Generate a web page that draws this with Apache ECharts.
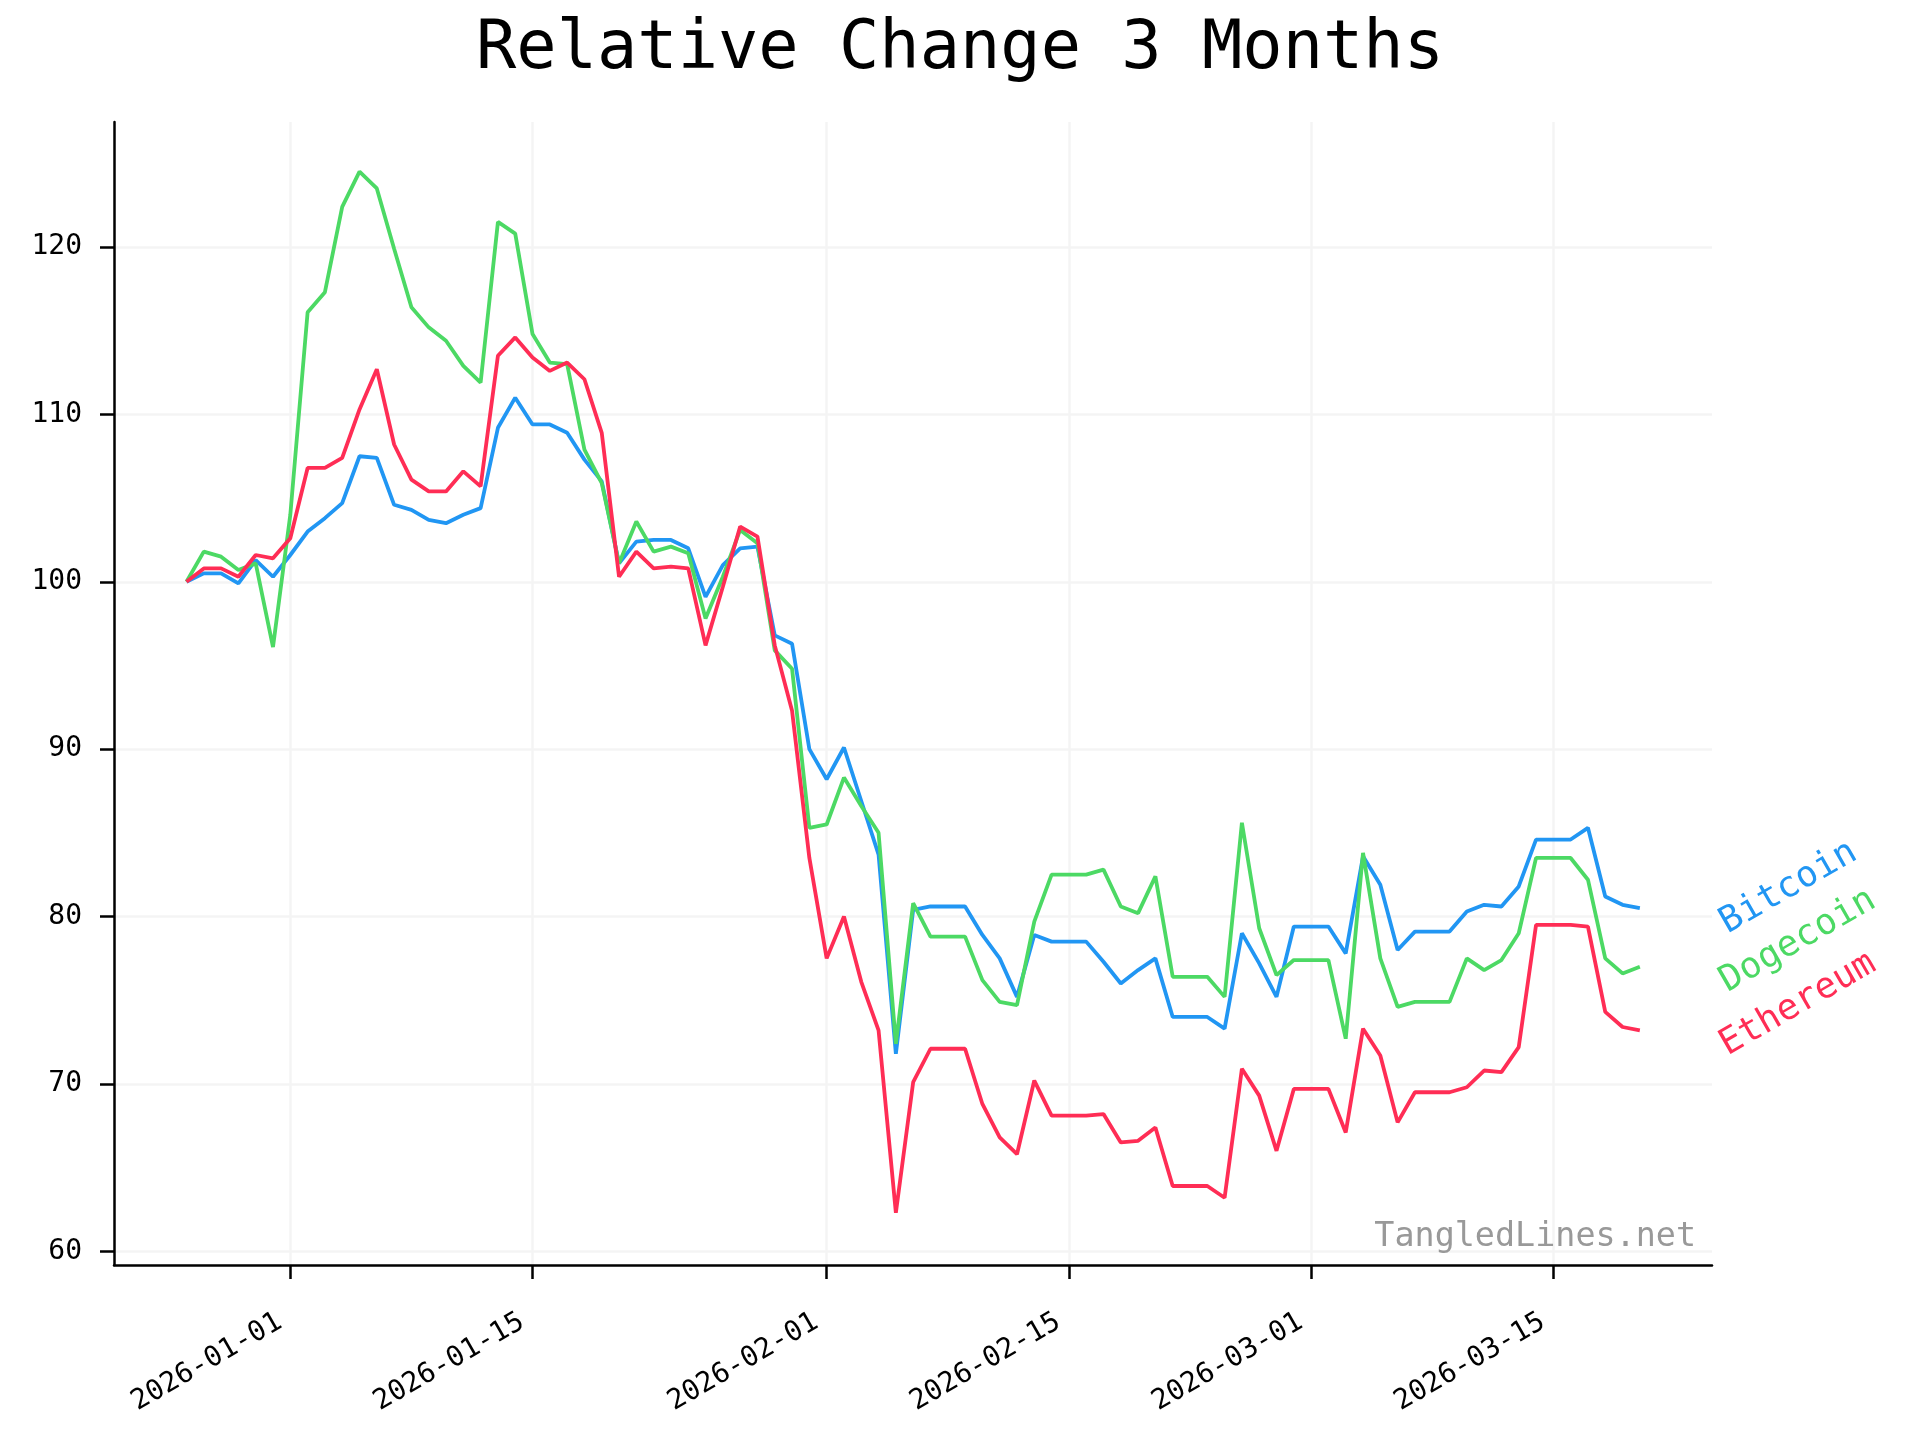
<!DOCTYPE html>
<html>
<head>
<meta charset="utf-8">
<script src="https://cdn.jsdelivr.net/npm/echarts@6/dist/echarts.min.js"></script>
<style>html,body{margin:0;padding:0;background:#fff}#c{width:1920px;height:1440px}</style>
</head>
<body>
<div id="c"></div>
<script>
const dates = [
 '2025-12-26','2025-12-27','2025-12-28','2025-12-29','2025-12-30','2025-12-31',
 '2026-01-01','2026-01-02','2026-01-03','2026-01-04','2026-01-05','2026-01-06','2026-01-07','2026-01-08','2026-01-09','2026-01-10',
 '2026-01-11','2026-01-12','2026-01-13','2026-01-14','2026-01-15','2026-01-16','2026-01-17','2026-01-18','2026-01-19','2026-01-20',
 '2026-01-21','2026-01-22','2026-01-23','2026-01-24','2026-01-25','2026-01-26','2026-01-27','2026-01-28','2026-01-29','2026-01-30','2026-01-31',
 '2026-02-01','2026-02-02','2026-02-03','2026-02-04','2026-02-05','2026-02-06','2026-02-07','2026-02-08','2026-02-09','2026-02-10',
 '2026-02-11','2026-02-12','2026-02-13','2026-02-14','2026-02-15','2026-02-16','2026-02-17','2026-02-18','2026-02-19','2026-02-20',
 '2026-02-21','2026-02-22','2026-02-23','2026-02-24','2026-02-25','2026-02-26','2026-02-27','2026-02-28',
 '2026-03-01','2026-03-02','2026-03-03','2026-03-04','2026-03-05','2026-03-06','2026-03-07','2026-03-08','2026-03-09','2026-03-10',
 '2026-03-11','2026-03-12','2026-03-13','2026-03-14','2026-03-15','2026-03-16','2026-03-17','2026-03-18','2026-03-19','2026-03-20'
];
const bitcoin = [
 100,100.5,100.5,99.9,101.3,100.3,
 101.6,103.0,103.8,104.7,107.5,107.4,104.6,104.3,103.7,103.5,104.0,104.4,109.2,111.0,109.4,109.4,108.9,107.3,106.0,101.1,102.4,102.5,102.5,102.0,99.1,101.0,102.0,102.1,96.8,96.3,90.0,
 88.2,90.1,86.9,83.7,71.8,80.4,80.6,80.6,80.6,78.9,77.5,75.2,78.9,78.5,78.5,78.5,77.3,76.0,76.8,77.5,74.0,74.0,74.0,73.3,79.0,77.2,75.2,79.4,
 79.4,79.4,77.8,83.6,81.9,78.0,79.1,79.1,79.1,80.3,80.7,80.6,81.8,84.6,84.6,84.6,85.3,81.2,80.7,80.5
];
const dogecoin = [
 100,101.8,101.5,100.7,101.1,96.1,
 104.0,116.1,117.3,122.4,124.5,123.5,119.9,116.4,115.2,114.4,112.9,111.9,121.5,120.8,114.8,113.1,113.0,107.9,105.9,101.1,103.6,101.8,102.1,101.7,97.8,100.3,103.1,102.3,95.9,94.8,85.3,
 85.5,88.3,86.6,85.0,72.4,80.8,78.8,78.8,78.8,76.2,74.9,74.7,79.7,82.5,82.5,82.5,82.8,80.6,80.2,82.4,76.4,76.4,76.4,75.2,85.6,79.3,76.5,77.4,
 77.4,77.4,72.7,83.8,77.5,74.6,74.9,74.9,74.9,77.5,76.8,77.4,79.0,83.5,83.5,83.5,82.2,77.5,76.6,77.0
];
const ethereum = [
 100,100.8,100.8,100.3,101.6,101.4,
 102.6,106.8,106.8,107.4,110.3,112.7,108.2,106.1,105.4,105.4,106.6,105.7,113.5,114.6,113.4,112.6,113.1,112.1,108.9,100.3,101.8,100.8,100.9,100.8,96.2,99.7,103.3,102.7,96.2,92.3,83.5,
 77.5,80.0,76.1,73.2,62.3,70.1,72.1,72.1,72.1,68.8,66.8,65.8,70.2,68.1,68.1,68.1,68.2,66.5,66.6,67.4,63.9,63.9,63.9,63.2,70.9,69.3,66.0,69.7,
 69.7,69.7,67.1,73.3,71.7,67.7,69.5,69.5,69.5,69.8,70.8,70.7,72.2,79.5,79.5,79.5,79.4,74.3,73.4,73.2
];
const seriesNames = ['Bitcoin','Dogecoin','Ethereum'];
const seriesColors = ['#2196F3','#4CD964','#FF2D55'];
const xTickLabels = ['2026-01-01','2026-01-15','2026-02-01','2026-02-15','2026-03-01','2026-03-15'];
const yTickLabels = [60,70,80,90,100,110,120];

const FONT = 'DejaVu Sans Mono';
const DAY = 86400000;
function ts(s){ const p=s.split('-').map(Number); return Date.UTC(p[0],p[1]-1,p[2]); }
function pad(n){ return (n<10?'0':'')+n; }
function fmt(v){ const d=new Date(Math.round(v/DAY)*DAY); return d.getUTCFullYear()+'-'+pad(d.getUTCMonth()+1)+'-'+pad(d.getUTCDate()); }

const xTicks = xTickLabels.map(ts);
const allSeries = [bitcoin, dogecoin, ethereum];

const chart = echarts.init(document.getElementById('c'), null, {renderer:'canvas'});
const option = {
  backgroundColor:'#ffffff',
  animation:false,
  title:{
    text:'Relative Change 3 Months', left:'center', top:12,
    textStyle:{fontFamily:FONT, fontSize:67, fontWeight:'normal', color:'#000'}
  },
  grid:{left:114, right:208, top:122, bottom:175, containLabel:false},
  xAxis:{
    type:'value',
    min: xTicks[0] - 10.19*DAY,
    max: xTicks[xTicks.length-1] + 9.17*DAY,
    axisLine:{show:true, onZero:false, lineStyle:{color:'#000', width:2.5}},
    axisTick:{show:true, inside:false, length:14, lineStyle:{color:'#000', width:2.5}, customValues:xTicks},
    axisLabel:{show:true, rotate:30, margin:49, padding:[0,12,0,0], fontFamily:FONT, fontSize:28, color:'#000',
      customValues:xTicks, formatter:function(v){return fmt(v);}},
    splitLine:{show:true, lineStyle:{color:'#f4f4f4', width:2.5}}
  },
  yAxis:{
    type:'value',
    min:59.18, max:127.47,
    axisLine:{show:true, onZero:false, lineStyle:{color:'#000', width:2.5}},
    axisTick:{show:true, inside:false, length:14, lineStyle:{color:'#000', width:2.5}, customValues:yTickLabels},
    axisLabel:{show:true, margin:32, fontFamily:FONT, fontSize:28, color:'#000', customValues:yTickLabels},
    splitLine:{show:true, lineStyle:{color:'#f4f4f4', width:2.5}}
  },
  series: seriesNames.map(function(name,i){
    return {
      name:name, type:'line', showSymbol:false, symbol:'none',
      data: dates.map(function(d,j){ return [ts(d), allSeries[i][j]]; }),
      lineStyle:{color:seriesColors[i], width:3.8},
      itemStyle:{color:seriesColors[i]},
      z: 2+i
    };
  })
};
chart.setOption(option);

// rotated end labels and watermark
const lastIdx = dates.length-1;
const graphics = seriesNames.map(function(name,i){
  const p = chart.convertToPixel({gridIndex:0}, [ts(dates[lastIdx]), allSeries[i][lastIdx]]);
  return {
    type:'text', x:p[0]+92, y:p[1]+33, rotation:Math.PI/6,
    style:{text:name, fill:seriesColors[i], font:'36px "DejaVu Sans Mono"', textAlign:'left', textVerticalAlign:'bottom'},
    z:100
  };
});
const gridCorner = chart.convertToPixel({gridIndex:0}, [option.xAxis.max, option.yAxis.min]);
graphics.push({
  type:'text', x:gridCorner[0]-16, y:gridCorner[1]-28,
  style:{text:'TangledLines.net', fill:'#999999', font:'33.4px "DejaVu Sans Mono"', textAlign:'right', textVerticalAlign:'middle'},
  z:100
});
chart.setOption({graphic:graphics});
</script>
</body>
</html>
